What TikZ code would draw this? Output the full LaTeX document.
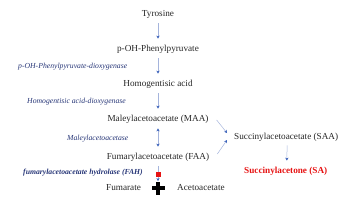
\documentclass[tikz,border=0pt]{standalone}
\usepackage{fontspec}
\setmainfont{Liberation Serif}
\usetikzlibrary{arrows.meta}
\definecolor{lineblue}{RGB}{165,180,220}
\definecolor{headblue}{RGB}{55,95,185}
\definecolor{enzblue}{RGB}{40,55,120}
\definecolor{sared}{RGB}{230,20,20}
\tikzset{
  met/.style={font=\fontsize{9.2}{10}\selectfont, inner sep=1pt, text=black!85},
  enz/.style={font=\fontsize{7.7}{9}\selectfont\itshape, inner sep=1pt, text=enzblue},
  conn/.style={draw=lineblue, line width=0.5pt, -{Stealth[length=3pt,width=3.2pt,color=headblue]}},
  dconn/.style={draw=lineblue, line width=0.5pt, {Stealth[length=3pt,width=3.2pt,color=headblue]}-{Stealth[length=3pt,width=3.2pt,color=headblue]}}
}
\begin{document}
\begin{tikzpicture}[x=1pt,y=-1pt]
\useasboundingbox (0,0) rectangle (350,209);
\node[met] (tyr) at (158,14) {Tyrosine};
\node[met] (poh) at (158,49) {p-OH-Phenylpyruvate};
\node[met] (hga) at (158,84) {Homogentisic acid};
\node[met] (maa) at (158,119) {Maleylacetoacetate (MAA)};
\node[met] (faa) at (158,157) {Fumarylacetoacetate (FAA)};
\node[met, anchor=west] (fum) at (105,188) {Fumarate};
\node[met, anchor=west] (aca) at (176,188) {Acetoacetate};
\node[met, anchor=west] (saa) at (233,137) {Succinylacetoacetate (SAA)};
\node[met, anchor=west, font=\fontsize{9.2}{10}\selectfont\bfseries, text=sared] (sa) at (243,171) {Succinylacetone (SA)};

\node[enz, anchor=west] (e1) at (17,67) {p-OH-Phenylpyruvate-dioxygenase};
\node[enz, anchor=west] (e2) at (26,102) {Homogentisic acid-dioxygenase};
\node[enz, anchor=west] (e3) at (66,139) {Maleylacetoacetase};
\node[enz, anchor=west, font=\fontsize{7.7}{9}\selectfont\bfseries\itshape] (e4) at (22,173) {fumarylacetoacetate hydrolase (FAH)};

\draw[conn, shorten <=4pt, shorten >=5pt] (tyr) -- (poh);
\draw[conn, shorten <=4pt, shorten >=5pt] (poh) -- (hga);
\draw[conn, shorten <=4pt, shorten >=5pt] (hga) -- (maa);
\draw[dconn, shorten <=4pt, shorten >=5pt] (maa) -- (faa);
\coordinate (plus) at (158,188);
\draw[conn, shorten <=4pt, shorten >=7pt] (faa) -- (plus);
\fill[sared] (155.5,172) rectangle (160.5,176.5);
\fill[black] ([shift={(-2,-6.5)}]plus) rectangle ([shift={(2,6.5)}]plus);
\fill[black] ([shift={(-6.5,-2)}]plus) rectangle ([shift={(6.5,2)}]plus);

\draw[conn] ([shift={(7,1)}]maa.east) -- ([shift={(-6,-4)}]saa.west);
\draw[conn] ([shift={(7,-3)}]faa.east) -- ([shift={(-6,3)}]saa.west);
\draw[conn, shorten <=3pt, shorten >=5pt] ([xshift=1pt]saa.south) -- ([xshift=1pt]sa.north);
\end{tikzpicture}
\end{document}
